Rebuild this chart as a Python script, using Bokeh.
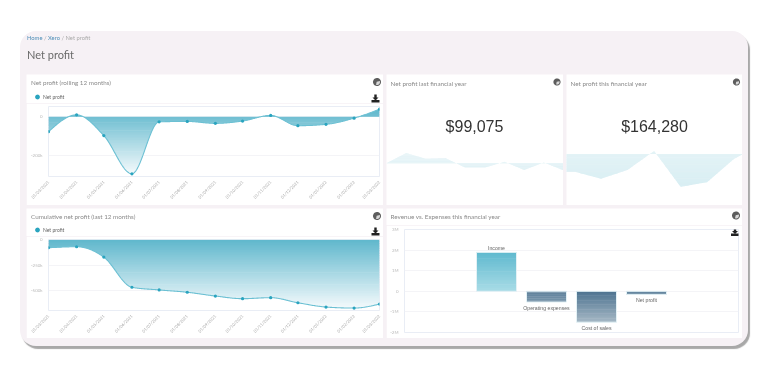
import numpy as np
import pandas as pd
from bokeh.embed import file_html
from bokeh.resources import INLINE
from bokeh.layouts import column, row
from bokeh.models import (Div, Label, PolyAnnotation, Range1d, FixedTicker)
from bokeh.plotting import figure
from bokeh.core.properties import value

# ---------- data ----------
month_labels = ["01/03/2021", "01/04/2021", "01/05/2021", "01/06/2021", "01/07/2021", "01/08/2021",
                "01/09/2021", "01/10/2021", "01/11/2021", "01/12/2021", "01/01/2022", "01/02/2022", "01/03/2022"]
net_profit = [-77000, 10000, -97000, -294000, -26000, -24000, -34000, -22000, 7000, -46000, -39000, -7000, 39000]
cumulative = [-79000, -69000, -171000, -467000, -493000, -516000, -553000, -579000, -569000, -619000, -661000, -671000, -632000]
profit_ticks = [0, -200000]
profit_tick_labels = ["0", "-200k"]
cumulative_ticks = [0, -250000, -500000]
cumulative_tick_labels = ["0", "-250k", "-500k"]

last_year_idx = [0, 1, 2, 3, 4, 5, 6, 7, 8, 9]
last_year = [0, 30, 13, 15, -13, -13, 4, -20, 2, -21]
this_year_idx = [-1, 0, 1, 2, 3, 4, 5, 6, 7]
this_year = [-52, -52, -73, -47, 9, -97, -83, -15, 27]

bar_names = ["Income", "Operating expenses", "Cost of sales", "Net profit"]
bar_values = [1890000, -520000, -1500000, -150000]
bar_ticks = [3000000, 2000000, 1000000, 0, -1000000, -2000000]
bar_tick_labels = ["3M", "2M", "1M", "0", "-1M", "-2M"]

TITLE_FONT = "Lato"
GREY = "#8a8a8a"
TICK = "#b9b9b9"
GRID = "#f4f4f7"
EDGE = "#e9edf5"


def hex2rgb(c):
    return np.array([int(c[i:i + 2], 16) for i in (1, 3, 5)], dtype=float)


def mix(c0, c1, t):
    v = hex2rgb(c0) * (1 - t) + hex2rgb(c1) * t
    return "#%02x%02x%02x" % tuple(int(round(a)) for a in v)


def monotone(x, y, n=500):
    """Monotone cubic drawing path through the read points."""
    x = np.asarray(x, float)
    y = np.asarray(y, float)
    h = np.diff(x)
    s = np.diff(y) / h
    m = np.zeros_like(y)
    for i in range(1, len(y) - 1):
        if s[i - 1] * s[i] > 0:
            p_ = (s[i - 1] * h[i] + s[i] * h[i - 1]) / (h[i] + h[i - 1])
            m[i] = (np.sign(s[i - 1]) + np.sign(s[i])) * min(abs(s[i - 1]), abs(s[i]), 0.5 * abs(p_))
    m[0] = (3 * s[0] - m[1]) / 2
    m[-1] = (3 * s[-1] - m[-2]) / 2
    xs = np.linspace(x[0], x[-1], n)
    k = np.clip(np.searchsorted(x, xs, side="right") - 1, 0, len(h) - 1)
    t = (xs - x[k]) / h[k]
    ys = ((2 * t**3 - 3 * t**2 + 1) * y[k] + (t**3 - 2 * t**2 + t) * h[k] * m[k]
          + (-2 * t**3 + 3 * t**2) * y[k + 1] + (t**3 - t**2) * h[k] * m[k + 1])
    return xs, ys


def gradient_area(p, x, y, base, top, bottom, c0, c1, n=40):
    levels = np.linspace(top, bottom, n + 1)
    step = abs(levels[1] - levels[0])
    base_arr = np.full_like(y, base, dtype=float)
    for k in range(n):
        hi, lo = levels[k], levels[k + 1] - (0.4 * step if k < n - 1 else 0)
        color = mix(c0, c1, (k + 0.5) / n)
        p.varea(x=x, y1=np.clip(y, lo, hi), y2=np.clip(base_arr, lo, hi), fill_color=color, fill_alpha=1)


class Panel:
    def __init__(self, x0, y0, w, h, bl=0, br=0, bt=0, bb=0, **kw):
        self.x0, self.y0, self.w, self.h, self.bl, self.br, self.bt, self.bb = x0, y0, w, h, bl, br, bt, bb
        self.p = figure(width=w, height=h, output_backend="svg", toolbar_location=None, frame_align=False,
                        min_border_left=bl, min_border_right=br, min_border_top=bt, min_border_bottom=bb,
                        background_fill_color="white", border_fill_color="white", tools="", **kw)
        self.p.outline_line_color = None

    def fx(self, X):
        return X - (self.x0 + self.bl)

    def fy(self, Y):
        return (self.y0 + self.h - self.bb) - Y

    def label(self, X, Y, text, size="6.3px", color=GREY, font=TITLE_FONT, align="left"):
        self.p.add_layout(Label(x=self.fx(X), y=self.fy(Y), x_units="screen", y_units="screen", text=text,
                                text_font=font, text_font_size=size, text_color=color,
                                text_align=align, text_baseline="middle"))

    def poly(self, pts, color):
        self.p.add_layout(PolyAnnotation(xs=[self.fx(a) for a, _ in pts], ys=[self.fy(b) for _, b in pts],
                                         xs_units="screen", ys_units="screen", fill_color=color, fill_alpha=1,
                                         line_color=None))

    def dot(self, cx, cy, r, color):
        ang = np.linspace(0, 2 * np.pi, 28)
        self.poly([(cx + r * np.cos(a), cy + r * np.sin(a)) for a in ang], color)

    def pie_icon(self, cx, cy, r=4.0):
        self.dot(cx, cy, r, "#5d5d5d")
        ang2 = np.linspace(-0.3, 1.9, 10)
        self.poly([(cx - 0.3, cy - 0.3)] + [(cx + (r - 1) * np.cos(a), cy + (r - 1) * np.sin(a)) for a in ang2], "#d8d8d8")

    def download_icon(self, cx, cy):
        self.poly([(cx - 1.2, cy - 4), (cx + 1.2, cy - 4), (cx + 1.2, cy - 1), (cx + 3, cy - 1), (cx, cy + 2),
                   (cx - 3, cy - 1), (cx - 1.2, cy - 1)], "#222222")
        self.poly([(cx - 4, cy + 1.5), (cx + 4, cy + 1.5), (cx + 4, cy + 4), (cx - 4, cy + 4)], "#222222")


def strip(x0, y0, w, h):
    pn = Panel(x0, y0, w, h, x_range=Range1d(0, w), y_range=Range1d(0, h), x_axis_location=None, y_axis_location=None)
    pn.p.grid.visible = False
    return pn


def clean_yaxis(p, ticks, labels):
    p.yaxis.ticker = FixedTicker(ticks=ticks)
    p.yaxis.major_label_overrides = dict(zip(ticks, labels))
    p.yaxis.major_label_text_font = TITLE_FONT
    p.yaxis.major_label_text_font_size = "4.4px"
    p.yaxis.major_label_text_color = TICK
    p.yaxis.axis_line_color = None
    p.yaxis.major_tick_line_color = None
    p.yaxis.minor_tick_line_color = None
    p.yaxis.major_tick_out = 0
    p.yaxis.major_tick_in = 0
    p.yaxis.minor_tick_out = 0
    p.yaxis.major_label_standoff = 6


dates = pd.to_datetime(month_labels, format="%d/%m/%Y")
ms = np.asarray((dates - pd.Timestamp("1970-01-01")) / pd.Timedelta(milliseconds=1), dtype=float)


def line_panel(y0, strip_h, h, bt, bb, values, y_lo, y_hi, ticks, tick_labels, title, title_y, dl_y, grad_top, grad_bot):
    head = strip(26, y0, 357, strip_h)
    head.label(30.5, title_y, title)
    head.pie_icon(376.5, title_y - 0.5)
    head.download_icon(375, dl_y)
    head.dot(37, dl_y - 1.5, 2.4, "#2aa4bf")
    head.label(42.5, dl_y - 1.5, "Net profit", size="5px", color="#666666")

    pn = Panel(26, y0 + strip_h, 357, h - strip_h, bl=22, br=4, bt=bt, bb=bb, x_axis_type="datetime",
               x_range=Range1d(ms[0], ms[-1]), y_range=Range1d(y_lo, y_hi))
    p = pn.p
    p.outline_line_color = EDGE
    p.outline_line_width = 1
    p.xgrid.visible = False
    p.ygrid.ticker = FixedTicker(ticks=ticks)
    p.ygrid.grid_line_color = GRID
    p.xaxis.ticker = FixedTicker(ticks=list(ms))
    p.xaxis.major_label_overrides = {float(m): s for m, s in zip(ms, month_labels)}
    p.xaxis.major_label_orientation = np.pi / 4
    p.xaxis.major_label_text_font = TITLE_FONT
    p.xaxis.major_label_text_font_size = "4.2px"
    p.xaxis.major_label_text_color = "#aaaaaa"
    p.xaxis.axis_line_color = None
    p.xaxis.major_tick_line_color = None
    p.xaxis.minor_tick_line_color = None
    p.xaxis.major_tick_out = 0
    p.xaxis.major_tick_in = 0
    p.xaxis.minor_tick_out = 0
    p.xaxis.major_label_standoff = 5
    clean_yaxis(p, ticks, tick_labels)

    xs, ys = monotone(ms, values)
    gradient_area(p, xs, ys, 0.0, grad_top, grad_bot, "#5fb7cc", "#f4fafc")
    p.line(xs, ys, line_color="#6cc0d3", line_width=1.1)
    p.scatter(ms, values, size=3.2, color="#2aa4bf", line_color=None)
    return column(head.p, p, spacing=0)


p1 = line_panel(74, 29, 131, 3, 29, net_profit, -308000, 53000, profit_ticks, profit_tick_labels,
                "Net profit (rolling 12 months)", 82, 98, 39000, -294000)
p2 = line_panel(208, 28, 130, 3, 28, cumulative, -695000, 2000, cumulative_ticks, cumulative_tick_labels,
                "Cumulative net profit (last 12 months)", 216, 231, 0, -671000)


def spark_panel(x0, w, idx, vals, xr, yr, title, amount, cx, pie_x, top_c, bot_c):
    pn = Panel(x0, 74, w, 131, x_range=Range1d(*xr), y_range=Range1d(*yr), x_axis_location=None, y_axis_location=None)
    p = pn.p
    p.grid.visible = False
    xs = np.linspace(idx[0], idx[-1], 1200)
    ys = np.interp(xs, idx, vals)
    gradient_area(p, xs, ys, 0.0, max(vals), min(vals), top_c, bot_c, n=24)
    pn.label(x0 + 4, 82.5, title, size="6.3px")
    pn.label(cx, 126, amount, size="16px", color="#333333", font="Liberation Sans", align="center")
    pn.pie_icon(pie_x, 81.5, r=3.6)
    return pn


p3 = spark_panel(386, 177, last_year_idx, last_year, (0, 9), (-125, 262), "Net profit last financial year",
                 "$99,075", 474, 556.5, "#e8f5f8", "#e0f1f5")
p4 = spark_panel(566, 176, this_year_idx, this_year, (-0.3, 6.33), (-152, 235), "Net profit this financial year",
                 "$164,280", 654, 736, "#e6f4f7", "#d8eef3")

# revenue vs expenses
head5 = strip(386, 208, 356, 17)
head5.label(390, 216, "Revenue vs. Expenses this financial year")
head5.pie_icon(735.5, 215)
pn5 = Panel(386, 225, 356, 113, bl=18, br=4, bt=4, bb=6, x_range=Range1d(-1.84, 4.84), y_range=Range1d(-2000000, 3000000))
p5 = pn5.p
p5.outline_line_color = EDGE
p5.xaxis.visible = False
p5.xgrid.visible = False
p5.ygrid.ticker = FixedTicker(ticks=bar_ticks)
p5.ygrid.grid_line_color = GRID
clean_yaxis(p5, bar_ticks, bar_tick_labels)
for i, (name, v) in enumerate(zip(bar_names, bar_values)):
    n = 24
    edges = np.linspace(0, v, n + 1)
    step = abs(edges[1] - edges[0])
    if v > 0:
        cols = [mix("#a9dce7", "#5fb9ce", (k + 0.5) / n) for k in range(n)]
        tops = [e + (0.4 * step if k < n - 1 else 0) for k, e in enumerate(edges[1:])]
        bottoms = list(edges[:-1])
    else:
        cols = [mix("#4d7390", "#a6b8c5", ((k + 0.5) / n) * abs(v) / 1500000) for k in range(n)]
        tops = list(edges[:-1])
        bottoms = [e - (0.4 * step if k < n - 1 else 0) for k, e in enumerate(edges[1:])]
    p5.quad(left=[i - 0.4] * n, right=[i + 0.4] * n, bottom=bottoms, top=tops, fill_color=cols, line_color=None)
    p5.vbar(x=[i], width=0.8, bottom=[0], top=[v], fill_alpha=0, line_color="#e3f1f5", line_width=1)
    p5.text(x=[i], y=[v], text=[name], text_align="center", text_baseline="middle",
            y_offset=[-4 if v > 0 else 5.7], text_font=value("Liberation Sans"), text_font_size="5.2px", text_color="#666666")
pn5.download_icon(734.5, 231.5)

header = Div(text=(
    '<div style="font-family:Lato,sans-serif;font-size:5.8px;line-height:8px;color:#aaaaaa;margin-top:3px">'
    '<span style="color:#4f8fb8">Home</span> / <span style="color:#4f8fb8">Xero</span> / Net profit</div>'
    '<div style="font-family:Lato,sans-serif;font-size:11px;line-height:14px;color:#6a6a6a;margin-top:6px">Net profit</div>'),
    width=300, height=43, margin=(0, 0, 0, 7))

left_col = column(p1, p2, spacing=3)
right_col = column(row(p3.p, p4.p, spacing=3), column(head5.p, p5, spacing=0), spacing=3)
body = row(left_col, right_col, spacing=3, margin=(0, 0, 0, 6))
root = column(header, body, width=728, height=315, margin=(31, 0, 0, 20),
              styles={"background": "#f6f1f5", "border-radius": "16px", "box-shadow": "2px 3px 1px #a8a8a8",
                      "filter": "blur(0.35px)"})

open("out.html", "w").write(file_html(root, INLINE))
